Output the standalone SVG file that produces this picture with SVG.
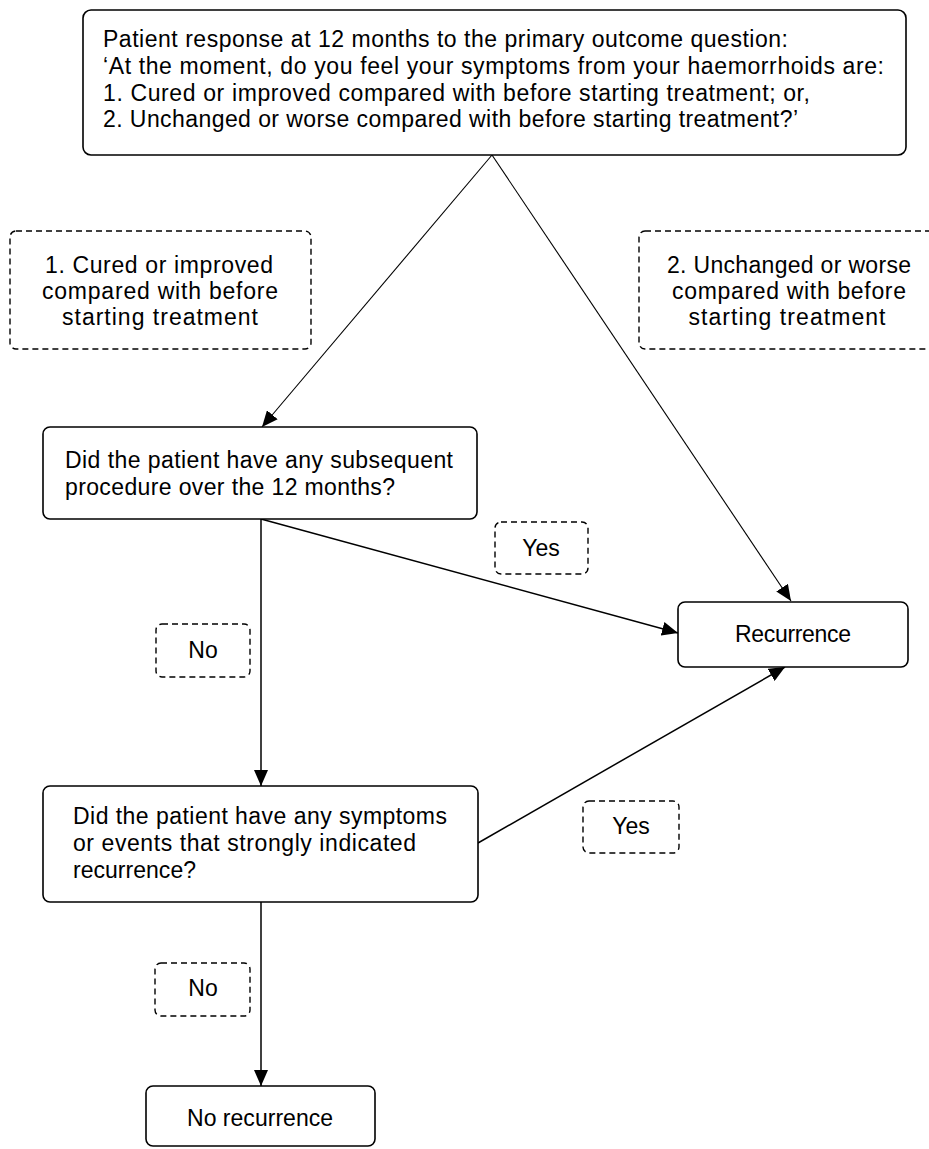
<svg xmlns="http://www.w3.org/2000/svg" width="929" height="1149" viewBox="0 0 929 1149">
<style>
.box{fill:#fff;stroke:#000;stroke-width:1.6}
.dash{fill:none;stroke:#000;stroke-width:1.4;stroke-dasharray:6 4}
.t{font-family:"Liberation Sans",Arial,sans-serif;font-size:23px;fill:#000}
.c{text-anchor:middle}
.ln{fill:none;stroke:#000;stroke-width:1.5}
.thin{fill:none;stroke:#000;stroke-width:1.1}
</style>
<defs>
<marker id="ah" viewBox="0 0 16 14" refX="16" refY="7" markerWidth="16" markerHeight="14" markerUnits="userSpaceOnUse" orient="auto">
<path d="M0,0 L16,7 L0,14 Z" fill="#000"/>
</marker>
</defs>
<rect width="929" height="1149" fill="#fff"/>
<g id="connectors">
<line class="thin" x1="492" y1="155" x2="262" y2="427" marker-end="url(#ah)"/>
<line class="thin" x1="492" y1="155" x2="791" y2="601" marker-end="url(#ah)"/>
<line class="ln" x1="261" y1="519" x2="678" y2="633" marker-end="url(#ah)"/>
<line class="ln" x1="261" y1="519" x2="261" y2="786" marker-end="url(#ah)"/>
<line class="ln" x1="478" y1="843" x2="785" y2="667" marker-end="url(#ah)"/>
<line class="ln" x1="261" y1="902" x2="261" y2="1086" marker-end="url(#ah)"/>
</g>
<g id="question">
<rect class="box" x="83" y="10" width="823" height="145" rx="8"/>
<text class="t" x="103" y="47" textLength="685">Patient response at 12 months to the primary outcome question:</text>
<text class="t" x="103" y="74" textLength="781">‘At the moment, do you feel your symptoms from your haemorrhoids are:</text>
<text class="t" x="103" y="101" textLength="707">1. Cured or improved compared with before starting treatment; or,</text>
<text class="t" x="103" y="127" textLength="695">2. Unchanged or worse compared with before starting treatment?’</text>
</g>
<g id="label-cured">
<rect class="dash" x="10" y="231" width="301" height="118" rx="6"/>
<text class="t c" x="159" y="273" textLength="228">1. Cured or improved</text>
<text class="t c" x="160" y="299" textLength="236">compared with before</text>
<text class="t c" x="160" y="325" textLength="196">starting treatment</text>
</g>
<g id="label-unchanged">
<rect class="dash" x="639" y="231" width="300" height="118" rx="6"/>
<text class="t c" x="789" y="273" textLength="244">2. Unchanged or worse</text>
<text class="t c" x="789" y="299" textLength="234">compared with before</text>
<text class="t c" x="787" y="325" textLength="197">starting treatment</text>
</g>
<g id="procedure">
<rect class="box" x="43" y="427" width="434" height="92" rx="7"/>
<text class="t" x="65" y="468" textLength="388">Did the patient have any subsequent</text>
<text class="t" x="65" y="495" textLength="330">procedure over the 12 months?</text>
</g>
<g id="label-yes1">
<rect class="dash" x="495" y="522" width="93" height="52" rx="6"/>
<text class="t c" x="541" y="556">Yes</text>
</g>
<g id="recurrence">
<rect class="box" x="678" y="602" width="230" height="65" rx="7"/>
<text class="t c" x="793" y="642" textLength="116">Recurrence</text>
</g>
<g id="label-no1">
<rect class="dash" x="156" y="624" width="94" height="53" rx="6"/>
<text class="t c" x="203" y="658">No</text>
</g>
<g id="symptoms">
<rect class="box" x="43" y="786" width="435" height="116" rx="7"/>
<text class="t" x="73" y="824" textLength="374">Did the patient have any symptoms</text>
<text class="t" x="73" y="851" textLength="343">or events that strongly indicated</text>
<text class="t" x="73" y="878" textLength="123">recurrence?</text>
</g>
<g id="label-yes2">
<rect class="dash" x="583" y="801" width="96" height="52" rx="6"/>
<text class="t c" x="631" y="834">Yes</text>
</g>
<g id="label-no2">
<rect class="dash" x="155" y="963" width="95" height="53" rx="6"/>
<text class="t c" x="203" y="996">No</text>
</g>
<g id="no-recurrence">
<rect class="box" x="146" y="1086" width="229" height="60" rx="7"/>
<text class="t c" x="260" y="1126" textLength="146">No recurrence</text>
</g>
</svg>
